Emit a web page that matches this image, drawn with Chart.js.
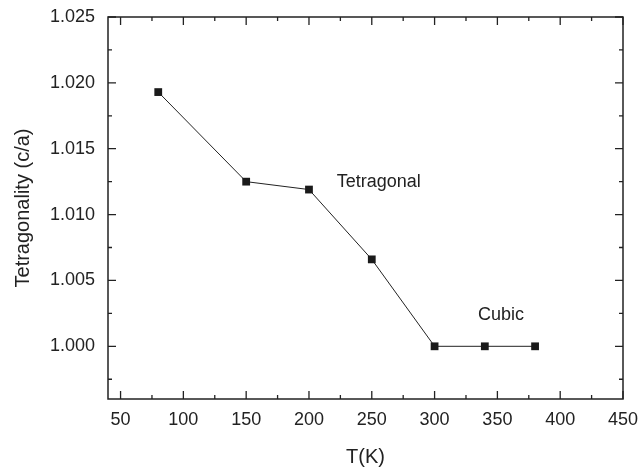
<!DOCTYPE html>
<html lang="en">
<head>
    <meta charset="UTF-8">
    <title>Tetragonality vs T</title>
    <script src="https://cdn.jsdelivr.net/npm/chart.js"></script>
    <style>
        html, body { margin: 0; padding: 0; background: #fff; }
    </style>
</head>
<body>
    <canvas id="chart" width="638" height="468"></canvas>

    <script>
        // values
        const temps = [80, 150, 200, 250, 300, 340, 380];
        const ratio = [1.0193, 1.0125, 1.0119, 1.0066, 1.0000, 1.0000, 1.0000];

        const xTicks = [50, 100, 150, 200, 250, 300, 350, 400, 450];
        const xMinor = [75, 125, 175, 225, 275, 325, 375, 425];
        const yTicks = [1.000, 1.005, 1.010, 1.015, 1.020, 1.025];
        const yMinor = [0.9975, 1.0025, 1.0075, 1.0125, 1.0175, 1.0225];

        const noteText = ['Tetragonal', 'Cubic'];
        const noteX = [255.5, 352.8];
        const noteY = [1.0125, 1.00236];

        const ink = '#222';
        const fontFam = '"Liberation Sans", Arial, sans-serif';

        // frame + inward ticks on all four sides, plus the two phase labels
        const framePlugin = {
            id: 'frame',
            afterDraw(chart) {
                const ctx = chart.ctx, a = chart.chartArea;
                const xs = chart.scales.x, ys = chart.scales.y;
                ctx.save();
                ctx.strokeStyle = ink;
                ctx.lineWidth = 1.5;
                ctx.strokeRect(a.left, a.top, a.right - a.left, a.bottom - a.top);

                ctx.lineWidth = 1.3;
                ctx.beginPath();
                const tickX = (v, len) => {
                    const px = xs.getPixelForValue(v);
                    ctx.moveTo(px, a.bottom); ctx.lineTo(px, a.bottom - len);
                    ctx.moveTo(px, a.top); ctx.lineTo(px, a.top + len);
                };
                const tickY = (v, len) => {
                    const py = ys.getPixelForValue(v);
                    ctx.moveTo(a.left, py); ctx.lineTo(a.left + len, py);
                    ctx.moveTo(a.right, py); ctx.lineTo(a.right - len, py);
                };
                xTicks.forEach(v => tickX(v, 8));
                xMinor.forEach(v => tickX(v, 4));
                yTicks.forEach(v => tickY(v, 8));
                yMinor.forEach(v => tickY(v, 4));
                ctx.stroke();

                ctx.fillStyle = ink;
                ctx.font = '18px ' + fontFam;
                ctx.textAlign = 'center';
                ctx.textBaseline = 'middle';
                noteText.forEach((t, i) => {
                    ctx.fillText(t, xs.getPixelForValue(noteX[i]), ys.getPixelForValue(noteY[i]));
                });
                ctx.restore();
            }
        };

        new Chart(document.getElementById('chart'), {
            type: 'scatter',
            data: {
                datasets: [{
                    data: temps.map((t, i) => ({ x: t, y: ratio[i] })),
                    showLine: true,
                    borderColor: ink,
                    borderWidth: 1,
                    pointStyle: 'rect',
                    pointRadius: 5.5,
                    pointBackgroundColor: '#1a1a1a',
                    pointBorderWidth: 0
                }]
            },
            options: {
                responsive: false,
                animation: false,
                layout: { padding: { left: 0, right: 0, top: 17, bottom: 0 } },
                plugins: { legend: { display: false }, tooltip: { enabled: false } },
                scales: {
                    x: {
                        type: 'linear',
                        min: 40, max: 450,
                        grid: { display: false },
                        border: { display: false },
                        afterBuildTicks: s => { s.ticks = xTicks.map(v => ({ value: v })); },
                        afterFit: s => { s.height = 69; s.paddingRight = 15; },
                        ticks: {
                            color: ink, padding: 2,
                            font: { family: fontFam, size: 18 },
                            maxRotation: 0,
                            callback: v => String(v)
                        },
                        title: {
                            display: true, text: 'T(K)', color: ink,
                            font: { family: fontFam, size: 20, lineHeight: 1.1 },
                            padding: { top: 0, bottom: 0 }
                        }
                    },
                    y: {
                        type: 'linear',
                        min: 0.996, max: 1.025,
                        grid: { display: false },
                        border: { display: false },
                        afterBuildTicks: s => { s.ticks = yTicks.map(v => ({ value: v })); },
                        afterFit: s => { s.width = 108; s.paddingTop = 0; },
                        ticks: {
                            color: ink, padding: 5,
                            font: { family: fontFam, size: 18 },
                            callback: v => v.toFixed(3)
                        },
                        title: {
                            display: true, text: 'Tetragonality (c/a)', color: ink,
                            font: { family: fontFam, size: 20 },
                            padding: { top: 11, bottom: 0 }
                        }
                    }
                }
            },
            plugins: [framePlugin]
        });
    </script>
</body>
</html>
